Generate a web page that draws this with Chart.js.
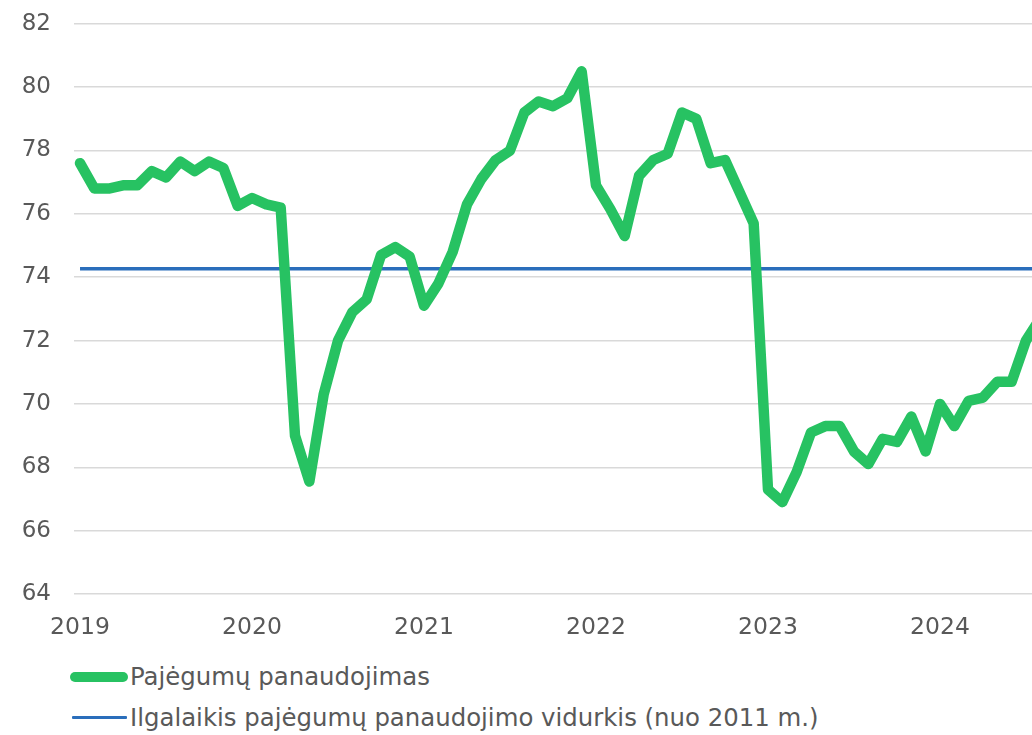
<!DOCTYPE html>
<html>
<head>
<meta charset="utf-8">
<script src="https://cdn.jsdelivr.net/npm/chart.js@4"></script>
<style>
  html, body { margin: 0; padding: 0; background: #fff; overflow: hidden; }
  body { width: 1032px; height: 735px; position: relative; font-family: "DejaVu Sans", Verdana, sans-serif; }
  #wrap { position: absolute; left: 0; top: -13px; width: 1032px; height: 657px; }
  .legend { position: absolute; left: 70px; font-size: 24.4px; color: #595959; display: flex; align-items: center; white-space: nowrap; }
  .swatch { display: inline-block; border-radius: 6px; margin-right: 2px; }
</style>
</head>
<body>
<div id="wrap"><canvas id="c" width="1032" height="657"></canvas></div>
<div class="legend" style="top:662px;"><span class="swatch" style="width:58px;height:10px;background:#27C262;"></span><span id="l1"></span></div>
<div class="legend" style="top:703px;"><span class="swatch" style="width:55px;height:3px;background:#2A6EBB;margin-left:2px;margin-right:3px;border-radius:1px;"></span><span id="l2"></span></div>
<script>
// Monthly data, January 2019 onwards
const startYear = 2019;
const utilization = [
  77.6, 76.8, 76.8, 76.9, 76.9, 77.35, 77.15, 77.65, 77.35, 77.65, 77.45, 76.25,
  76.5, 76.3, 76.2, 69.0, 67.55, 70.3, 72.0, 72.9, 73.3, 74.7, 74.95, 74.65,
  73.1, 73.8, 74.8, 76.3, 77.1, 77.7, 78.0, 79.2, 79.55, 79.4, 79.65, 80.5,
  76.9, 76.15, 75.3, 77.2, 77.7, 77.9, 79.2, 79.0, 77.6, 77.7, 76.7, 75.7,
  67.3, 66.9, 67.85, 69.1, 69.3, 69.3, 68.5, 68.1, 68.9, 68.8, 69.6, 68.5,
  70.0, 69.3, 70.1, 70.2, 70.7, 70.7, 72.0, 72.7
];
const longTermAverage = 74.27;
const yTicks = [64, 66, 68, 70, 72, 74, 76, 78, 80, 82];
const seriesNames = ["Pajėgumų panaudojimas", "Ilgalaikis pajėgumų panaudojimo vidurkis (nuo 2011 m.)"];

document.getElementById('l1').textContent = seriesNames[0];
document.getElementById('l2').textContent = seriesNames[1];

const utilPoints = utilization.map((v, i) => ({ x: i, y: v }));
const avgPoints = utilization.map((v, i) => ({ x: i, y: longTermAverage }));

const FONT = '"DejaVu Sans", Verdana, sans-serif';

new Chart(document.getElementById('c'), {
  type: 'line',
  data: {
    datasets: [
      { label: seriesNames[1], data: avgPoints, borderColor: '#2A6EBB', borderWidth: 3.5, pointRadius: 0, tension: 0, order: 2 },
      { label: seriesNames[0], data: utilPoints, borderColor: '#27C262', borderWidth: 10.5, pointRadius: 0, tension: 0,
        borderJoinStyle: 'round', borderCapStyle: 'round', order: 1 }
    ]
  },
  options: {
    responsive: false,
    animation: false,
    layout: { padding: { top: 9, right: 0, left: 0, bottom: 0 } },
    plugins: { legend: { display: false }, tooltip: { enabled: false } },
    scales: {
      x: {
        type: 'linear',
        min: -0.42,
        max: 66.42,
        grid: { display: false },
        border: { display: false },
        afterBuildTicks: (axis) => {
          const t = [];
          for (let i = 0; i <= 66; i += 12) t.push({ value: i });
          axis.ticks = t;
        },
        afterFit: (axis) => { axis.height = 50; },
        ticks: {
          autoSkip: false,
          maxRotation: 0,
          padding: 12,
          color: '#595959',
          font: { family: FONT, size: 23.5 },
          callback: (v) => String(startYear + Math.round(v) / 12)
        }
      },
      y: {
        min: 64,
        max: 82,
        afterBuildTicks: (axis) => { axis.ticks = yTicks.map(v => ({ value: v })); },
        afterFit: (axis) => { axis.width = 74; },
        grid: { color: '#D9D9D9', lineWidth: 1.5, drawTicks: false },
        border: { display: false },
        ticks: {
          padding: 23,
          color: '#595959',
          font: { family: FONT, size: 23 }
        }
      }
    }
  }
});
</script>
</body>
</html>
